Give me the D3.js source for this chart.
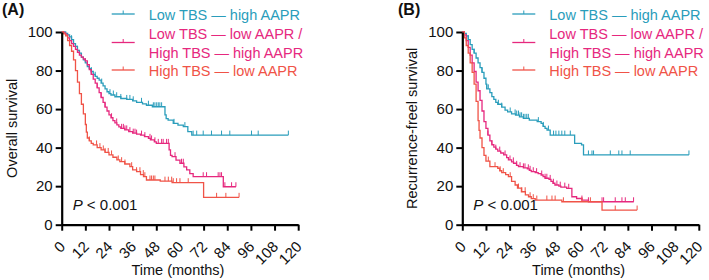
<!DOCTYPE html>
<html><head><meta charset="utf-8">
<script src="https://cdn.jsdelivr.net/npm/d3@7"></script>
<style>
body{margin:0;background:#fff}
svg{display:block}
text{font-family:"Liberation Sans",Arial,Helvetica,sans-serif}
</style>
</head><body>
<svg id="chart" width="709" height="280"></svg>
<script>
// ---------- data ----------
const monthTicks = [0,12,24,36,48,60,72,84,96,108,120];
const survTicks = [0,20,40,60,80,100];
const groupLabels = [["Low TBS — high AAPR"],["Low TBS — low AAPR /","High TBS — high AAPR"],["High TBS — low AAPR"]];
const panelLabels = ["(A)","(B)"];
const yTitles = ["Overall survival","Recurrence-freel survival"];
const xTitle = "Time (months)";
const pValueText = " < 0.001";

// Overall survival (panel A): [time, survival %] step points
const osTeal = [[0,100],[2,99.3],[3,98.5],[4,97.5],[5,96],[6,94],[7,92.5],[8,90.5],[9,89],[10,87],[11,85.5],[12,84],[13,82],[14,81],[15,79.5],[16,78],[17,77],[18,76],[19,75],[20,73.5],[21,72],[22,70.5],[23,69],[24,68],[25,67.3],[27,66.4],[30,65.5],[33,65],[36,64.3],[38,63.5],[41,62.7],[43,62],[46,61.2],[52.4,57],[53,55],[54,54.3],[56.6,52.6],[59,51.7],[61.7,50.9],[64,48.3],[66,46.5],[115,46.5]];
const osPink = [[0,100],[1,99.5],[2,98.5],[3,97],[4,95.5],[5,94],[6,92.5],[7,91],[8,89.5],[9,88],[10,87],[11,86],[12,85],[13,83],[14,80.5],[15,78],[16,75.5],[17,73.5],[18,71],[19,68.5],[20,66],[21,63.5],[22,61],[23,59],[24,57],[25,55.5],[26,54],[27,52.8],[28,51.8],[29,50.8],[30,50],[32,49.2],[34,48.3],[36,47.5],[38,47],[40,46.5],[42,45.7],[44,44.8],[45,44],[47,43],[48,42.2],[54.5,38.8],[55.2,36],[56,35.3],[58,33.5],[60,31.9],[62,30],[63.4,28.4],[65,26.5],[66.7,24.9],[82,19.7],[88.4,19.7]];
const osRed = [[0,100],[1,99],[2,98],[3,95.5],[4,93],[5,90],[6,85.5],[7,80],[8,74],[9,68],[10,62.5],[11,57.5],[12,52],[12.5,48],[13,45],[14,43.5],[15,42.2],[16,41.4],[18,40],[20,38.8],[22,37.5],[24,36.2],[26,35],[28,33.6],[29.5,32.7],[32,31.5],[34.6,30.1],[36,28.5],[38,27.5],[40,26],[41.5,24.9],[43,23.2],[50,22.6],[56,21.8],[72,14.2],[90,14.2]];
const osTealCensor = [5,8,12,15,17,20.3,24.5,26.2,27.9,30,33,34.6,36.3,40.5,44,46.5,47.3,48.2,49,49.8,50.7,57,62.5,66.7,68.5,71.8,76,81.1,85.3,96.3,99.7,115];
const osPinkCensor = [15,18,20,22,25.3,27.9,30.4,31.3,32.1,33,34.6,36.3,37.2,38,40.5,42.2,44.8,45.6,47.3,49,50.7,51.5,53.2,54.1,57.5,60.8,61.7,71.8,73.5,79.4,80.3,81.1,82.8,86.2,88.4];
const osRedCensor = [14,17.7,19.4,21.1,22,23.6,25.3,28.7,30.4,32.1,35.5,38,39.7,41.4,42.2,44.8,45.6,46.5,47.3,52.4,54.1,55.8,56.6,58.3,60,64.2,78.6,83.3,90];

// Recurrence-free survival (panel B)
const rfsTeal = [[0,100],[1,99.3],[2,98],[3,96],[4,93.5],[5,91],[6,89],[7,86.5],[8,84],[9,81.5],[10,79],[11,76],[12,73],[12.4,70.5],[14,68.5],[15,66.5],[16,65],[17,63.5],[18,62.5],[20,61],[21.7,59.5],[23,58.5],[25,57.5],[27,56.9],[29,56],[31,55.2],[34,54.3],[38,53.5],[40,52.6],[41,51],[42,50],[43,49.1],[44.6,46.5],[57,42.2],[60.5,41.4],[61.5,36.2],[115,36.2]];
const rfsPink = [[0,100],[1,98.5],[2,95.5],[3,92],[4,88],[5,84],[6,79.5],[7,74],[8,69.5],[9,64.5],[10,59],[11,53.5],[12,50],[13,46.5],[14,43.5],[15,41.5],[16,40.3],[17,39.2],[18,38.2],[19.5,37.2],[21,36.2],[22.5,34.8],[23.4,33.6],[25,32.6],[26,31.9],[27.5,30.8],[28.5,30.1],[31,29.5],[33,29],[34,28.2],[35,27.5],[37,27],[38.5,26.5],[40,25.8],[41,25],[42,24.1],[44,23.5],[45,22.5],[46,21.5],[47,20.6],[49,20],[50,19.5],[53,18.9],[55.6,14.5],[58,13.6],[60.7,12.8],[64,11.9],[87,11.9]];
const rfsRed = [[0,100],[1,97],[2,93],[3,89],[4,84],[5,79],[6,73],[7,64],[8,54],[8.5,49],[9,45],[10,40],[11,36],[12,33],[14,30.1],[18,29.3],[19,28],[20,27],[22,26],[23.4,24.9],[25,22.5],[26.8,20.6],[28,19],[30,17.1],[32,15.5],[33.6,14.5],[35,13.5],[37,12.8],[50.5,11.9],[70.9,7.6],[88.7,7.6]];
const rfsTealCensor = [3,6,10,12.4,13.2,18.3,20,24.3,26.8,27.6,28.5,29.3,30.1,31,31.8,32.7,33.5,38.6,41.1,43.7,46.3,47.5,49,50.5,52,54.8,64,65.8,66.6,75.1,79.4,81,85.2,115];
const rfsPinkCensor = [13,15,17,19,21.7,24.2,25.9,27.6,29.3,31,31.8,33.5,34.4,36,37.7,40.3,42,42.9,44.6,46.2,48,49.7,52,54,60.7,64,70.9,71.7,77.6,81,82.7,86.9];
const rfsRedCensor = [13.2,16.6,19.2,20.8,24.3,28.5,30.2,31.9,34.4,36,37.8,42.9,45.5,47.1,51.3,60.7,65,77.6,88.7];

// ---------- styles / layout ----------
const colors = ["#2a9dbb","#e6287e","#f05347"];
const font = '"Liberation Sans",Arial,Helvetica,sans-serif';
const panels = [
  {x0: 61.7, label: panelLabels[0], labelX: 2, title: yTitles[0], curves: [osTeal, osPink, osRed], censors: [osTealCensor, osPinkCensor, osRedCensor]},
  {x0: 462.3, label: panelLabels[1], labelX: 398, title: yTitles[1], curves: [rfsTeal, rfsPink, rfsRed], censors: [rfsTealCensor, rfsPinkCensor, rfsRedCensor]}
];
const yTop = 32, yBot = 224.7, plotW = 236.5;

const svg = d3.select("#chart");

function stepValue(curve, t){
  let v = curve[0][1];
  for (const [ti, si] of curve){ if (ti <= t + 1e-9) v = si; else break; }
  return v;
}

panels.forEach(p => {
  const g = svg.append("g");
  const x = d3.scaleLinear().domain([0,120]).range([p.x0, p.x0 + plotW]);
  const y = d3.scaleLinear().domain([0,100]).range([yBot, yTop]);

  // curves
  const line = d3.line().x(d => x(d[0])).y(d => y(d[1])).curve(d3.curveStepAfter);
  p.curves.forEach((c, i) => {
    g.append("path").datum(c).attr("d", line)
      .attr("fill","none").attr("stroke", colors[i]).attr("stroke-width", 1.3);
    g.append("g").selectAll("line").data(p.censors[i]).join("line")
      .attr("x1", t => x(t)).attr("x2", t => x(t))
      .attr("y1", t => y(stepValue(c, t))).attr("y2", t => y(stepValue(c, t)) - 4.5)
      .attr("stroke", colors[i]).attr("stroke-width", 1);
  });

  // axes
  const ya = g.append("g").attr("transform", `translate(${p.x0},0)`)
    .call(d3.axisLeft(y).tickValues(survTicks).tickSize(6).tickSizeOuter(0).tickPadding(3));
  const xa = g.append("g").attr("transform", `translate(0,${yBot})`)
    .call(d3.axisBottom(x).tickValues(monthTicks).tickSize(6).tickSizeOuter(0));
  [ya, xa].forEach(a => {
    a.attr("font-family", font).attr("font-size", 15);
    a.select(".domain").attr("stroke", "#000").attr("stroke-width", 2.2);
    a.selectAll(".tick line").attr("stroke", "#000").attr("stroke-width", 2);
    a.selectAll(".tick text").attr("fill", "#111");
  });
  xa.selectAll(".tick text")
    .attr("x", 0).attr("y", 0).attr("dy", 0)
    .attr("text-anchor", "end")
    .attr("transform", "translate(4,23) rotate(-45)");

  // titles
  g.append("text").attr("transform", `translate(${p.x0 - 45},${(yTop + yBot) / 2}) rotate(-90)`)
    .attr("text-anchor","middle").attr("font-size", 14.5).attr("fill","#111").text(p.title);
  g.append("text").attr("x", p.x0 + plotW / 2 - 2).attr("y", 275)
    .attr("text-anchor","middle").attr("font-size", 14.5).attr("fill","#111").text(xTitle);
  g.append("text").attr("x", p.labelX).attr("y", 15)
    .attr("font-size", 16).attr("font-weight","bold").attr("fill","#111").text(p.label);

  // P value
  const pt = g.append("text").attr("x", p.x0 + 11).attr("y", 210).attr("font-size", 15).attr("fill","#111");
  pt.append("tspan").attr("font-style","italic").text("P");
  pt.append("tspan").text(pValueText);

  // legend
  const sampleX = p.x0 + 50, textX = p.x0 + 87;
  const sampleY = [14, 42.5, 70];
  const baselines = [[20],[39,57.5],[76]];
  groupLabels.forEach((lab, i) => {
    g.append("line").attr("x1", sampleX).attr("x2", sampleX + 23)
      .attr("y1", sampleY[i]).attr("y2", sampleY[i])
      .attr("stroke", colors[i]).attr("stroke-width", 1.3);
    g.append("line").attr("x1", sampleX + 11.5).attr("x2", sampleX + 11.5)
      .attr("y1", sampleY[i]).attr("y2", sampleY[i] - 3.5)
      .attr("stroke", colors[i]).attr("stroke-width", 1);
    lab.forEach((s, j) => {
      g.append("text").attr("x", textX).attr("y", baselines[i][j])
        .attr("font-size", 14.5).attr("fill", colors[i]).text(s);
    });
  });
});
</script>
</body></html>
